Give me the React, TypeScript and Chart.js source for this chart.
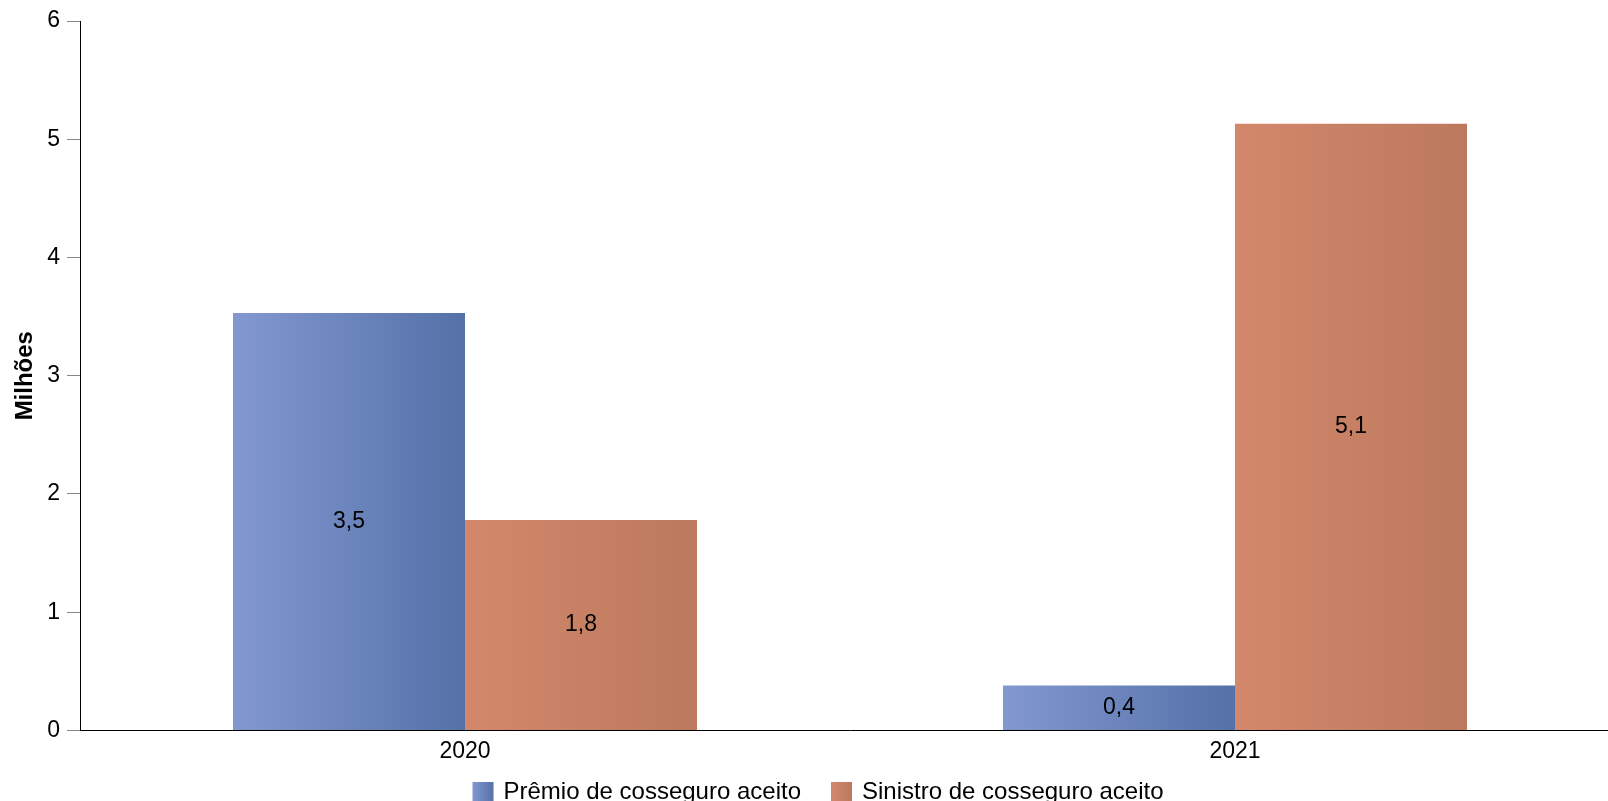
import React, { useEffect, useRef } from "react";
import { Chart, registerables } from "chart.js";

Chart.register(...registerables);

const categories = ["2020", "2021"];
const premioValues = [3.53, 0.38];
const sinistroValues = [1.78, 5.13];
const premioLabels = ["3,5", "0,4"];
const sinistroLabels = ["1,8", "5,1"];
const seriesNames = ["Prêmio de cosseguro aceito", "Sinistro de cosseguro aceito"];

const FONT = "Arial, 'Liberation Sans', sans-serif";

const blueStops = ["#8398d1", "#5471a8"];
const orangeStops = ["#d3886b", "#bc795e"];
const legendStops = [blueStops, orangeStops];

const CAT_PCT = 0.6026;

function gradientFor(stops: string[], dsIndex: number) {
  return (ctx: any) => {
    const chart = ctx.chart;
    const xScale = chart.scales?.x;
    if (!xScale || ctx.dataIndex === undefined) return stops[0];
    const center = xScale.getPixelForValue(ctx.dataIndex);
    const catW = xScale.width / categories.length;
    const barW = (catW * CAT_PCT) / 2;
    const left = dsIndex === 0 ? center - barW : center;
    const right = left + barW;
    if (!isFinite(left) || !isFinite(right)) return stops[0];
    const g = chart.ctx.createLinearGradient(left, 0, right, 0);
    g.addColorStop(0, stops[0]);
    g.addColorStop(1, stops[1]);
    return g;
  };
}

const labelPlugin = {
  id: "barLabels",
  afterDatasetsDraw(chart: any) {
    const ctx = chart.ctx;
    const texts = [premioLabels, sinistroLabels];
    ctx.save();
    ctx.font = `23px ${FONT}`;
    ctx.fillStyle = "#000";
    ctx.textAlign = "center";
    ctx.textBaseline = "middle";
    chart.data.datasets.forEach((_: any, di: number) => {
      const meta = chart.getDatasetMeta(di);
      meta.data.forEach((el: any, i: number) => {
        const y = (el.y + el.base) / 2;
        ctx.fillText(texts[di][i], el.x, y);
      });
    });
    ctx.restore();
  },
};

const legendPlugin = {
  id: "customLegend",
  afterDraw(chart: any) {
    const ctx = chart.ctx;
    const box = 21;
    const gapText = 10;
    const gapItem = 30;
    const centerX = 818;
    const boxTop = 782;
    const textY = 792;
    ctx.save();
    ctx.font = `24px ${FONT}`;
    const widths = seriesNames.map((s) => ctx.measureText(s).width);
    const total = widths.reduce((a, w) => a + box + gapText + w, 0) + gapItem * (seriesNames.length - 1);
    let x = centerX - total / 2;
    seriesNames.forEach((name, i) => {
      const g = ctx.createLinearGradient(x, 0, x + box, 0);
      g.addColorStop(0, legendStops[i][0]);
      g.addColorStop(1, legendStops[i][1]);
      ctx.fillStyle = g;
      ctx.fillRect(x, boxTop, box, box);
      ctx.fillStyle = "#000";
      ctx.textAlign = "left";
      ctx.textBaseline = "middle";
      ctx.fillText(name, x + box + gapText, textY);
      x += box + gapText + widths[i] + gapItem;
    });
    ctx.restore();
  },
};

export default function App() {
  const ref = useRef<HTMLCanvasElement | null>(null);
  useEffect(() => {
    if (!ref.current) return;
    const chart = new Chart(ref.current, {
      type: "bar",
      data: {
        labels: categories,
        datasets: [
          {
            label: seriesNames[0],
            data: premioValues,
            backgroundColor: gradientFor(blueStops, 0) as any,
            borderWidth: 0,
          },
          {
            label: seriesNames[1],
            data: sinistroValues,
            backgroundColor: gradientFor(orangeStops, 1) as any,
            borderWidth: 0,
          },
        ],
      },
      options: {
        animation: false,
        responsive: true,
        maintainAspectRatio: false,
        layout: { padding: { top: 21, left: 0, right: 0, bottom: 29 } },
        datasets: {
          bar: { categoryPercentage: CAT_PCT, barPercentage: 1 },
        },
        plugins: {
          tooltip: { enabled: false },
          legend: { display: false },
        },
        scales: {
          x: {
            grid: { display: false, drawTicks: false },
            border: { display: true, color: "#000", width: 1 },
            ticks: { font: { family: FONT, size: 23 }, color: "#000", padding: 7 },
          },
          y: {
            min: 0,
            max: 6,
            ticks: { stepSize: 1, font: { family: FONT, size: 23 }, color: "#000", padding: 7 },
            grid: { drawOnChartArea: false, color: "#888", tickLength: 13 },
            border: { display: true, color: "#000", width: 1 },
            title: {
              display: true,
              text: "Milhões",
              font: { family: FONT, size: 24, weight: "bold" },
              color: "#000",
              padding: { top: 11, bottom: 0 },
            },
            afterFit: (scale: any) => {
              scale.width = 80;
            },
          },
        },
      },
      plugins: [labelPlugin, legendPlugin],
    });
    return () => chart.destroy();
  }, []);
  return (
    <div style={{ position: "fixed", left: 0, top: 0, width: 1608, height: 801, overflow: "hidden", background: "#fff" }}>
      <div style={{ position: "absolute", left: 0, top: 0, width: 1620, height: 801 }}>
        <canvas ref={ref} />
      </div>
    </div>
  );
}
